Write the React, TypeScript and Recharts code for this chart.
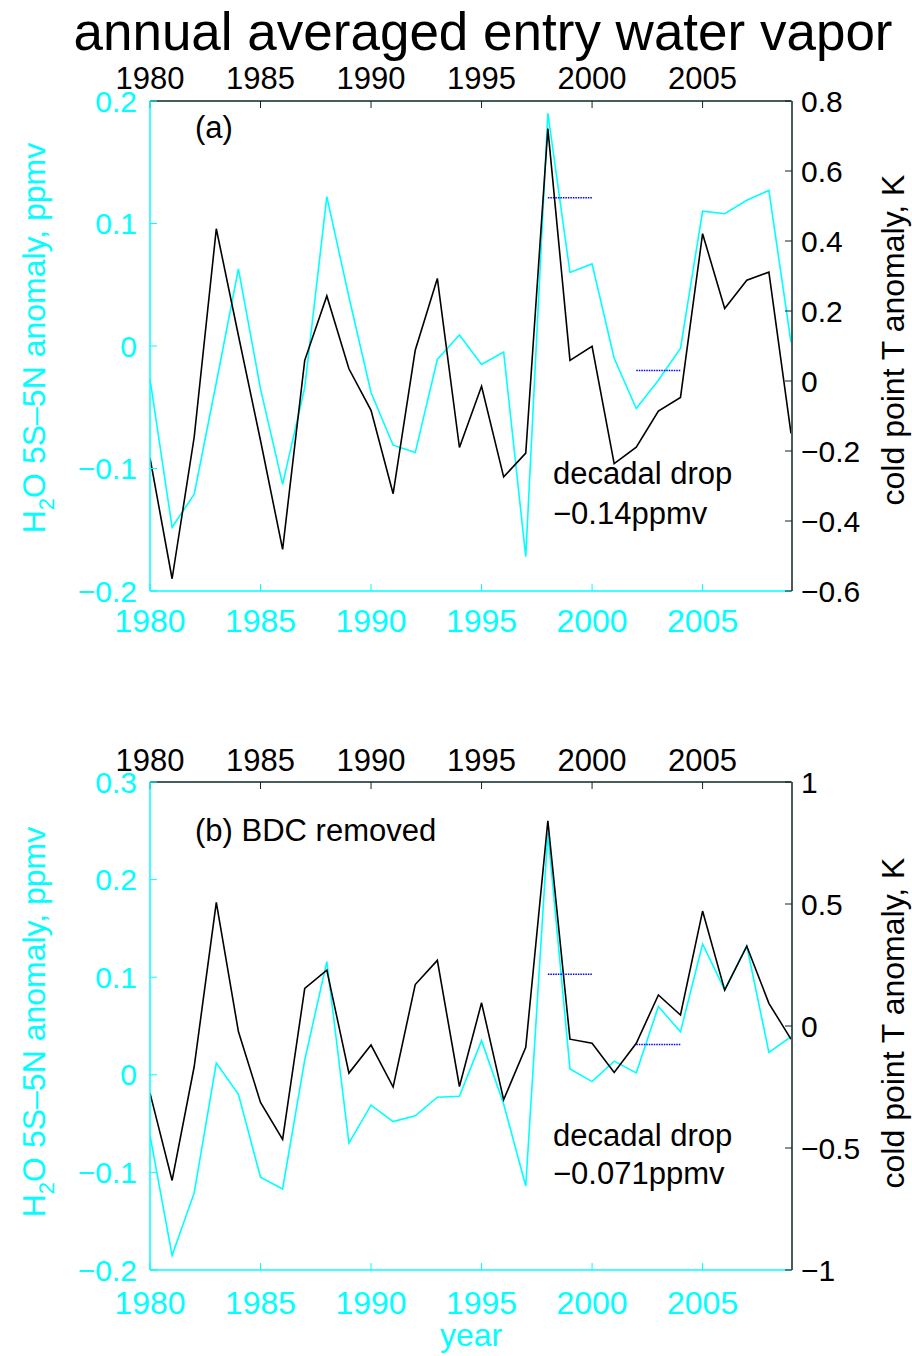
import { LineChart, Line, XAxis, YAxis } from "recharts"

const CYAN = "#00ffff"
const DARK = "#0b2626"
const BLUE = "#0000ff"
const FONT = "'Liberation Sans', Arial, Helvetica, sans-serif"

const years = [
    1980, 1981, 1982, 1983, 1984, 1985, 1986, 1987, 1988, 1989,
    1990, 1991, 1992, 1993, 1994, 1995, 1996, 1997, 1998, 1999,
    2000, 2001, 2002, 2003, 2004, 2005, 2006, 2007, 2008, 2009,
]
const yearTicks = [1980, 1985, 1990, 1995, 2000, 2005]

// panel (a): annual averaged entry water vapor (ppmv) and cold point T (K)
const h2oA = [
    -0.027, -0.148, -0.121, -0.03, 0.063, -0.035, -0.113, -0.034, 0.122, 0.04,
    -0.038, -0.081, -0.087, -0.011, 0.009, -0.015, -0.005, -0.172, 0.19, 0.06,
    0.067, -0.01, -0.051, -0.028, -0.002, 0.11, 0.108, 0.119, 0.127, 0.003,
]
const tempA = [
    -0.22, -0.565, -0.16, 0.435, 0.13, -0.17, -0.481, 0.059, 0.243, 0.035,
    -0.084, -0.322, 0.088, 0.293, -0.19, -0.015, -0.274, -0.206, 0.721, 0.059,
    0.099, -0.236, -0.189, -0.086, -0.047, 0.421, 0.207, 0.288, 0.311, -0.15,
]

// panel (b): BDC removed
const h2oB = [
    -0.062, -0.185, -0.121, 0.012, -0.02, -0.105, -0.117, 0.015, 0.116, -0.07,
    -0.031, -0.048, -0.042, -0.023, -0.022, 0.035, -0.03, -0.114, 0.248, 0.006,
    -0.007, 0.014, 0.002, 0.07, 0.044, 0.134, 0.087, 0.132, 0.023, 0.039,
]
const tempB = [
    -0.275, -0.633, -0.166, 0.507, -0.023, -0.313, -0.465, 0.154, 0.229, -0.193,
    -0.078, -0.25, 0.17, 0.269, -0.248, 0.095, -0.302, -0.087, 0.841, -0.054,
    -0.071, -0.19, -0.071, 0.127, 0.045, 0.471, 0.147, 0.327, 0.093, -0.054,
]

// decadal means drawn as short dotted segments
const earlyYears = [1998, 2000]
const lateYears = [2002, 2004]
const meansA = [0.121, -0.02]
const meansB = [0.103, 0.031]

const h2oTicksA = [-0.2, -0.1, 0, 0.1, 0.2]
const tempTicksA = [-0.6, -0.4, -0.2, 0, 0.2, 0.4, 0.6, 0.8]
const h2oTicksB = [-0.2, -0.1, 0, 0.1, 0.2, 0.3]
const tempTicksB = [-1, -0.5, 0, 0.5, 1]

const fmt = (v: number) => (v < 0 ? "\u2212" + String(-v) : String(v))

type PanelProps = {
    h2o: number[]
    temp: number[]
    means: number[]
    h2oTicks: number[]
    tempTicks: number[]
    top: number
    height: number
    marginTop: number
    marginBottom: number
    topTickMargin: number
    bottomTickMargin: number
}

function Panel(p: PanelProps) {
    const rows = years.map((year, i) => ({ year, h2o: p.h2o[i], temp: p.temp[i] }))
    const early = earlyYears.map((year) => ({ year, mean: p.means[0] }))
    const late = lateYears.map((year) => ({ year, mean: p.means[1] }))
    const h2oDomain = [p.h2oTicks[0], p.h2oTicks[p.h2oTicks.length - 1]]
    const tempDomain = [p.tempTicks[0], p.tempTicks[p.tempTicks.length - 1]]

    return (
        <div style={{ position: "absolute", left: 0, top: p.top }}>
            <LineChart
                width={912}
                height={p.height}
                data={rows}
                margin={{ top: p.marginTop, bottom: p.marginBottom, left: 70, right: 40 }}
            >
                <XAxis
                    xAxisId="bottom"
                    dataKey="year"
                    type="number"
                    domain={[1980, 2009]}
                    ticks={yearTicks}
                    interval={0}
                    allowDataOverflow
                    height={40}
                    axisLine={{ stroke: CYAN, strokeWidth: 1.5 }}
                    tickLine={{ stroke: CYAN }}
                    tickSize={-7}
                    tickMargin={p.bottomTickMargin}
                    tick={{ fill: CYAN, fontSize: 32, fontFamily: FONT }}
                />
                <XAxis
                    xAxisId="top"
                    orientation="top"
                    dataKey="year"
                    type="number"
                    domain={[1980, 2009]}
                    ticks={yearTicks}
                    interval={0}
                    allowDataOverflow
                    height={40}
                    axisLine={{ stroke: DARK, strokeWidth: 1.5 }}
                    tickLine={{ stroke: DARK }}
                    tickSize={-7}
                    tickMargin={p.topTickMargin}
                    tick={{ fill: "#000", fontSize: 31, fontFamily: FONT }}
                />
                <YAxis
                    yAxisId="h2o"
                    domain={h2oDomain}
                    ticks={p.h2oTicks}
                    interval={0}
                    allowDataOverflow
                    width={80}
                    axisLine={{ stroke: CYAN, strokeWidth: 1.5 }}
                    tickLine={{ stroke: CYAN }}
                    tickSize={-7}
                    tickMargin={20}
                    tickFormatter={fmt}
                    tick={{ fill: CYAN, fontSize: 30, fontFamily: FONT }}
                />
                <YAxis
                    yAxisId="h2oMirror"
                    orientation="right"
                    domain={h2oDomain}
                    ticks={p.h2oTicks}
                    interval={0}
                    allowDataOverflow
                    width={1}
                    axisLine={false}
                    tickLine={{ stroke: CYAN }}
                    tickSize={-7}
                    tick={false}
                />
                <YAxis
                    yAxisId="temp"
                    orientation="right"
                    domain={tempDomain}
                    ticks={p.tempTicks}
                    interval={0}
                    allowDataOverflow
                    width={80}
                    axisLine={{ stroke: DARK, strokeWidth: 1.5 }}
                    tickLine={{ stroke: DARK }}
                    tickSize={-7}
                    tickMargin={16}
                    tickFormatter={fmt}
                    tick={{ fill: "#000", fontSize: 30, fontFamily: FONT }}
                />
                <Line
                    xAxisId="bottom"
                    yAxisId="h2o"
                    dataKey="h2o"
                    type="linear"
                    stroke={CYAN}
                    strokeWidth={1.6}
                    dot={false}
                    isAnimationActive={false}
                />
                <Line
                    xAxisId="bottom"
                    yAxisId="temp"
                    dataKey="temp"
                    type="linear"
                    stroke="#000"
                    strokeWidth={1.6}
                    dot={false}
                    isAnimationActive={false}
                />
                <Line
                    xAxisId="bottom"
                    yAxisId="h2o"
                    data={early}
                    dataKey="mean"
                    type="linear"
                    stroke={BLUE}
                    strokeWidth={1.5}
                    strokeDasharray="1.5 1"
                    dot={false}
                    isAnimationActive={false}
                />
                <Line
                    xAxisId="bottom"
                    yAxisId="h2o"
                    data={late}
                    dataKey="mean"
                    type="linear"
                    stroke={BLUE}
                    strokeWidth={1.5}
                    strokeDasharray="1.5 1"
                    dot={false}
                    isAnimationActive={false}
                />
            </LineChart>
        </div>
    )
}

function H2OLabel({ x, y }: { x: number; y: number }) {
    return (
        <text transform={`translate(${x},${y}) rotate(-90)`} textAnchor="middle" fill={CYAN} fontSize={32}>
            H<tspan dy={9} fontSize={22}>2</tspan>
            <tspan dy={-9}>O 5S–5N anomaly, ppmv</tspan>
        </text>
    )
}

function TempLabel({ x, y }: { x: number; y: number }) {
    return (
        <text transform={`translate(${x},${y}) rotate(-90)`} textAnchor="middle" fill="#000" fontSize={32}>
            cold point T anomaly, K
        </text>
    )
}

export default function App() {
    return (
        <div style={{ position: "absolute", left: 0, top: 0, width: 912, height: 1356, background: "#fff", fontFamily: FONT }}>
            <Panel
                h2o={h2oA}
                temp={tempA}
                means={meansA}
                h2oTicks={h2oTicksA}
                tempTicks={tempTicksA}
                top={0}
                height={680}
                marginTop={61}
                marginBottom={49}
                topTickMargin={19}
                bottomTickMargin={25}
            />
            <Panel
                h2o={h2oB}
                temp={tempB}
                means={meansB}
                h2oTicks={h2oTicksB}
                tempTicks={tempTicksB}
                top={690}
                height={666}
                marginTop={52}
                marginBottom={46}
                topTickMargin={18}
                bottomTickMargin={28}
            />
            <svg
                width={912}
                height={1356}
                style={{ position: "absolute", left: 0, top: 0, pointerEvents: "none" }}
                fontFamily={FONT}
            >
                <text x={483} y={50} textAnchor="middle" fontSize={53} fill="#000">
                    annual averaged entry water vapor
                </text>
                <text x={195} y={138} fontSize={31} fill="#000">(a)</text>
                <text x={553} y={484} fontSize={31} fill="#000">decadal drop</text>
                <text x={553} y={524} fontSize={31} fill="#000">−0.14ppmv</text>
                <text x={195} y={841} fontSize={31} fill="#000">(b) BDC removed</text>
                <text x={553} y={1146} fontSize={31} fill="#000">decadal drop</text>
                <text x={553} y={1184} fontSize={31} fill="#000">−0.071ppmv</text>
                <text x={471} y={1346} textAnchor="middle" fontSize={32} fill={CYAN}>year</text>
                <H2OLabel x={45} y={338} />
                <H2OLabel x={45} y={1022} />
                <TempLabel x={904} y={340} />
                <TempLabel x={904} y={1023} />
            </svg>
        </div>
    )
}
